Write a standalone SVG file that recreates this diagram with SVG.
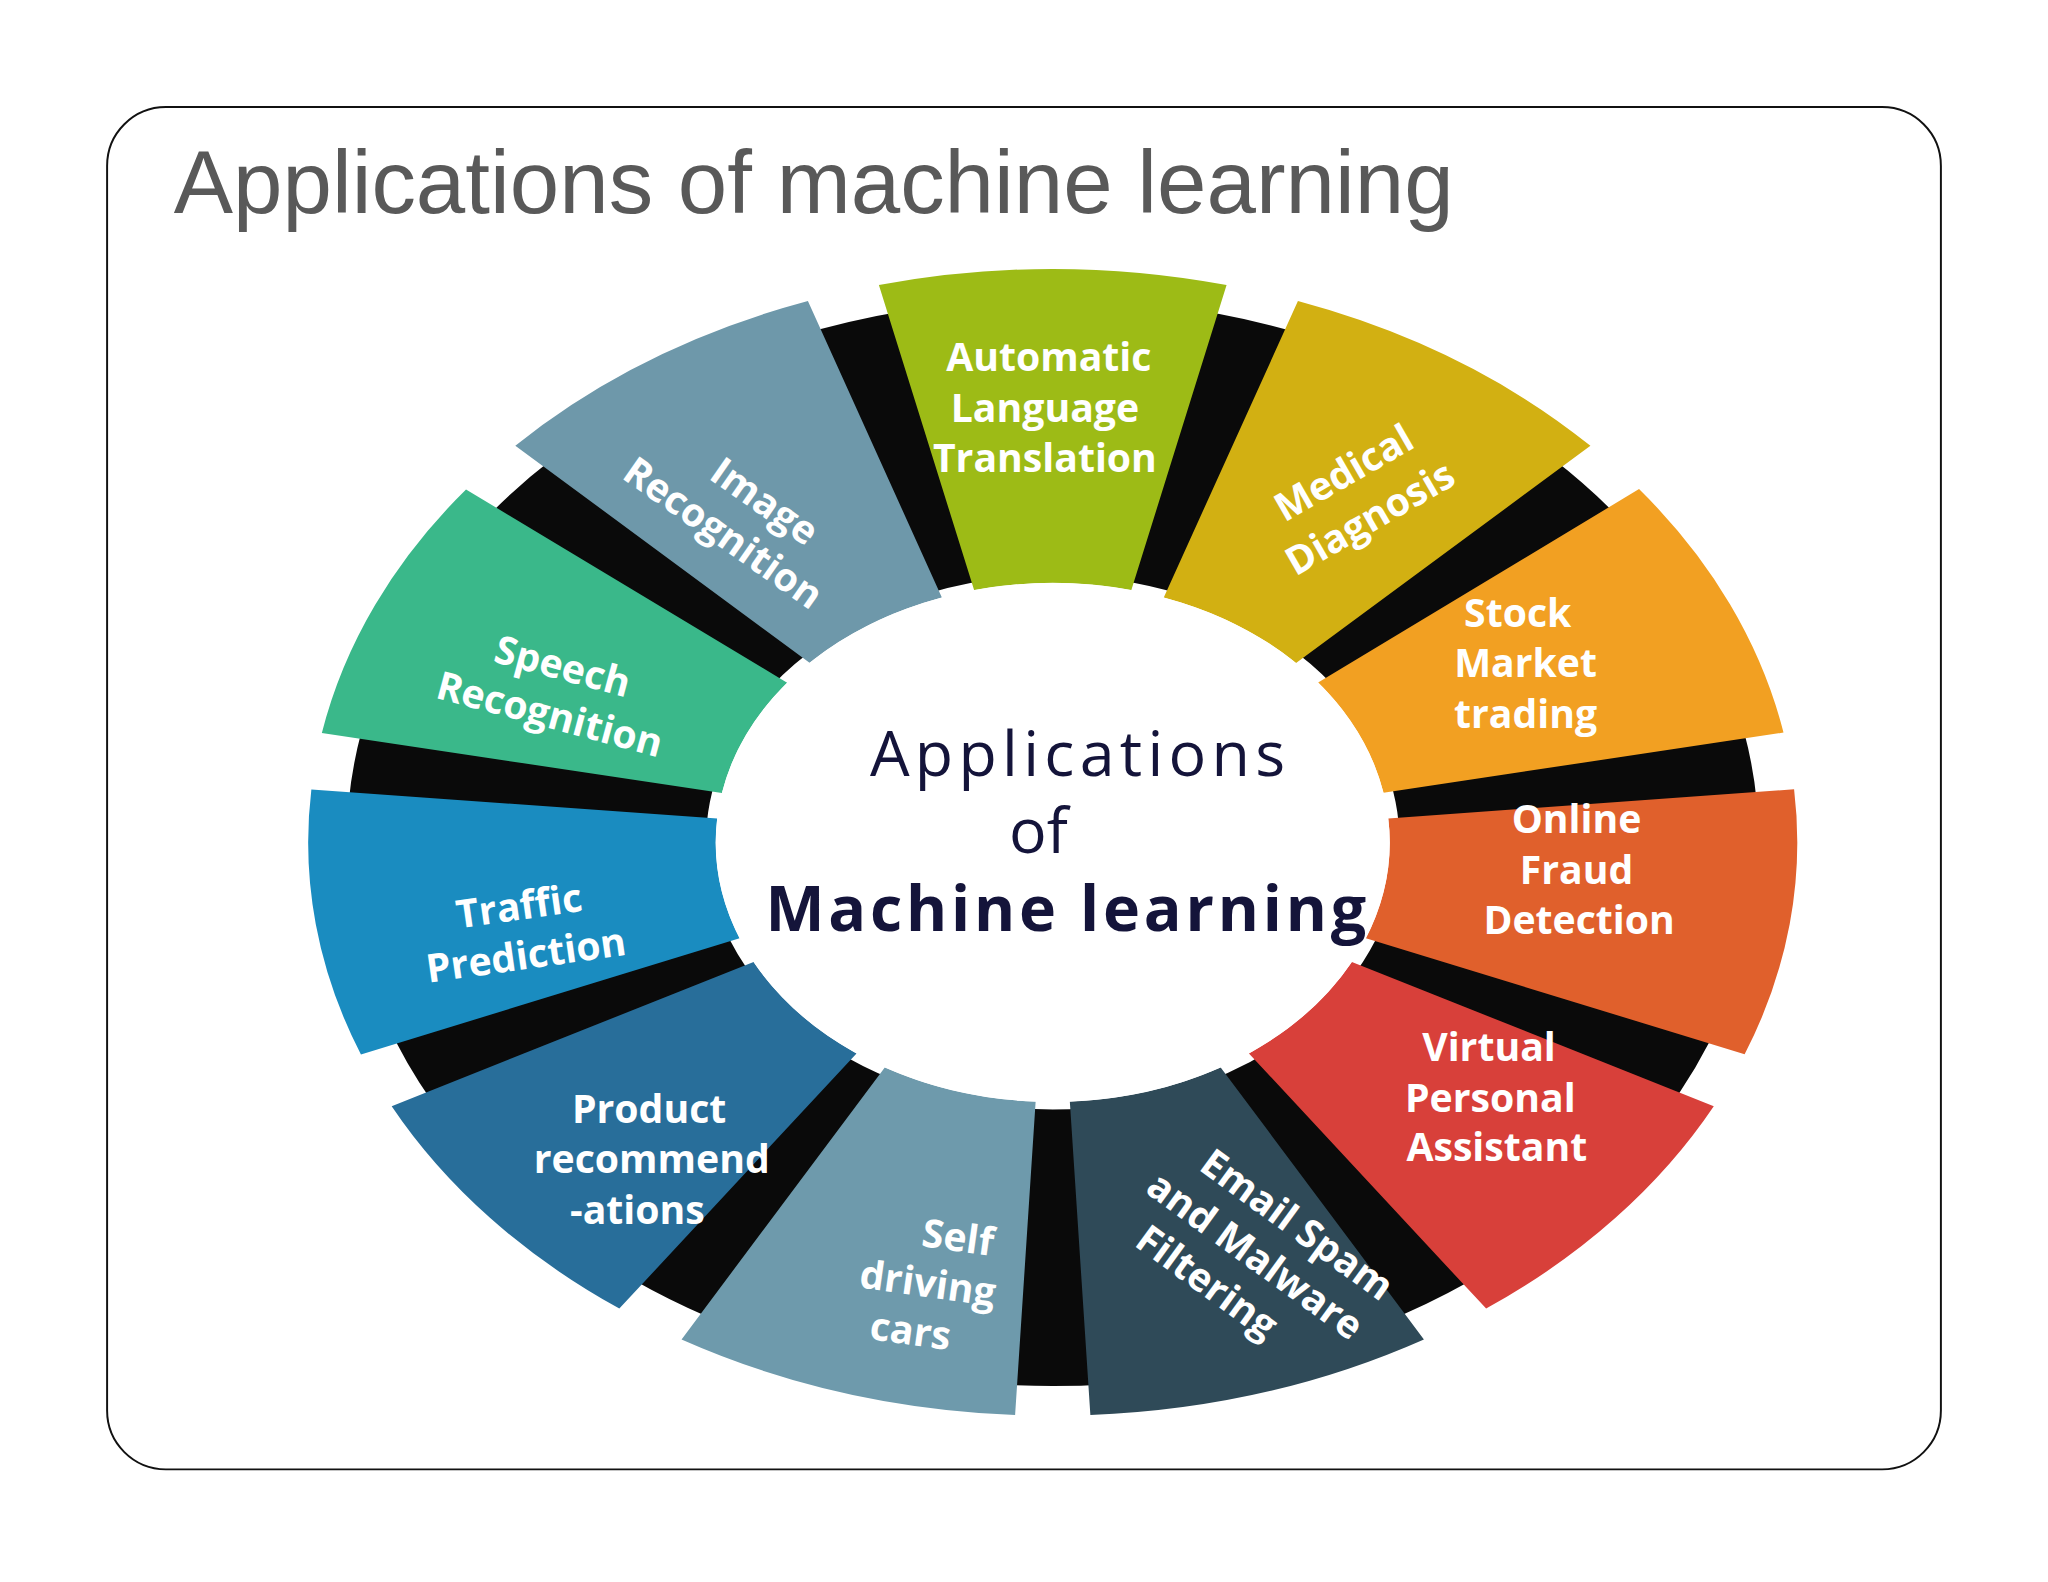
<svg xmlns="http://www.w3.org/2000/svg" width="2048" height="1582" viewBox="0 0 2048 1582">
<style>
.lbl{font-family:"Open Sans","DejaVu Sans",sans-serif;font-weight:bold;font-size:30px;fill:#fff;text-anchor:middle}
.ctr{font-family:"Open Sans","DejaVu Sans",sans-serif;font-size:48px;fill:#14143a;text-anchor:middle}
</style>
<defs>
<path id="sec" d="M -60.2 -250.9 L -133.1 -554.3 A 570 570 0 0 1 133.1 -554.3 L 60.2 -250.9 A 258 258 0 0 0 -60.2 -250.9 Z"/>
</defs>
<rect width="2048" height="1582" fill="#fff"/>
<g transform="scale(1.30612)">
<rect x="82" y="82" width="1404" height="1043" rx="45" fill="#fff" stroke="#111" stroke-width="1.5"/>
<text x="133" y="163" font-family="Liberation Sans, sans-serif" font-size="68" fill="#595959" textLength="980" lengthAdjust="spacingAndGlyphs">Applications of machine learning</text>
<g id="ring" transform="translate(806,645) scale(1,0.77)">
<circle r="403" fill="none" stroke="#0a0a0a" stroke-width="275"/>
<use href="#sec" fill="#9dbb16" transform="rotate(0)"/>
<use href="#sec" fill="#d2b012" transform="rotate(32.73)"/>
<use href="#sec" fill="#f2a022" transform="rotate(65.45)"/>
<use href="#sec" fill="#e0602c" transform="rotate(98.18)"/>
<use href="#sec" fill="#d8403a" transform="rotate(130.9)"/>
<use href="#sec" fill="#2f4a58" transform="rotate(163.6)"/>
<use href="#sec" fill="#6e9aac" transform="rotate(196.4)"/>
<use href="#sec" fill="#286e9a" transform="rotate(229.1)"/>
<use href="#sec" fill="#1a8cc0" transform="rotate(261.8)"/>
<use href="#sec" fill="#3ab88a" transform="rotate(294.5)"/>
<use href="#sec" fill="#6e98aa" transform="rotate(327.3)"/>
<circle r="258" fill="#fff"/>
</g>
<g id="labels">
<g id="n-auto"><text class="lbl" x="803" y="284">Automatic</text><text class="lbl" x="800" y="323">Language</text><text class="lbl" x="800" y="361">Translation</text></g>
<g id="n-med" transform="translate(1038,378) rotate(-30)"><text class="lbl" x="0" y="-8">Medical</text><text class="lbl" x="0" y="32">Diagnosis</text></g>
<g id="n-stock"><text class="lbl" x="1162" y="480">Stock</text><text class="lbl" x="1168" y="518">Market</text><text class="lbl" x="1168" y="557">trading</text></g>
<g id="n-fraud"><text class="lbl" x="1207" y="638">Online</text><text class="lbl" x="1207" y="677">Fraud</text><text class="lbl" x="1209" y="715">Detection</text></g>
<g id="n-va"><text class="lbl" x="1140" y="812">Virtual</text><text class="lbl" x="1141" y="851">Personal</text><text class="lbl" x="1146" y="889">Assistant</text></g>
<g id="n-email" transform="translate(962,960) rotate(36)"><text class="lbl" x="12" y="-26">Email Spam</text><text class="lbl" x="0" y="12">and Malware</text><text class="lbl" x="-18" y="50">Filtering</text></g>
<g id="n-self" transform="translate(710,985) rotate(8)"><text class="lbl" x="18" y="-30">Self</text><text class="lbl" x="0" y="8">driving</text><text class="lbl" x="-8" y="46">cars</text></g>
<g id="n-prod"><text class="lbl" x="497" y="860">Product</text><text class="lbl" x="499" y="898">recommend</text><text class="lbl" x="488" y="937">-ations</text></g>
<g id="n-traffic" transform="translate(400,712) rotate(-8)"><text class="lbl" x="0" y="-8">Traffic</text><text class="lbl" x="0" y="30">Prediction</text></g>
<g id="n-speech" transform="translate(426,528) rotate(15)"><text class="lbl" x="0" y="-8">Speech</text><text class="lbl" x="0" y="30">Recognition</text></g>
<g id="n-image" transform="translate(565,392) rotate(35)"><text class="lbl" x="12" y="-8">Image</text><text class="lbl" x="0" y="30">Recognition</text></g>
</g>
<g id="center">
<text class="ctr" x="825" y="594" textLength="318">Applications</text>
<text class="ctr" x="795" y="653">of</text>
<text class="ctr" x="816" y="713" font-weight="bold" textLength="460">Machine learning</text>
</g>
</g>
</svg>
